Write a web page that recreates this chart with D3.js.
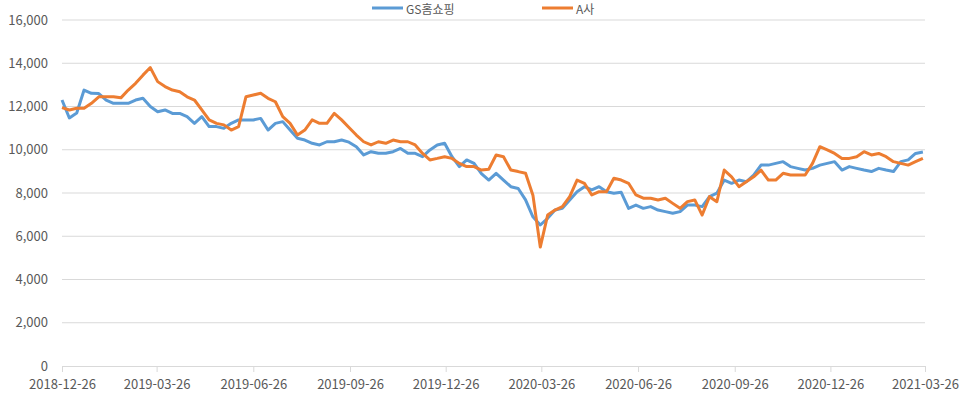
<!DOCTYPE html>
<html lang="ko">
<head>
<meta charset="UTF-8">
<title>GS홈쇼핑 vs A사</title>
<script src="https://d3js.org/d3.v7.min.js"></script>
<style>
    body { margin: 0; background: #fff; }
    svg { display: block; }
    text { font-family: "Noto Sans CJK KR", "Noto Sans", sans-serif; font-size: 13px; fill: #595959; }
</style>
</head>
<body>
<svg id="chart" width="966" height="398"></svg>
<script>
// weekly closes, starting 2018-12-26
const startDate = "2018-12-26";
const endDate = "2021-03-26";
const gsValues = [
    12300, 11470, 11700, 12760, 12610, 12600, 12300, 12150, 12150, 12150,
    12300, 12380, 12000, 11760, 11840, 11680, 11680, 11530, 11220, 11530,
    11070, 11070, 10990, 11220, 11380, 11380, 11380, 11450, 10910, 11220,
    11300, 10910, 10530, 10450, 10300, 10220, 10370, 10370, 10450, 10350,
    10140, 9760, 9910, 9835, 9835, 9910, 10060, 9835, 9835, 9680,
    9990, 10220, 10300, 9680, 9220, 9530, 9370, 8900, 8600, 8910,
    8600, 8290, 8210, 7680, 6900, 6520, 6830, 7210, 7290, 7680,
    8060, 8290, 8140, 8290, 8060, 7990, 8030, 7290, 7440, 7290,
    7370, 7210, 7140, 7060, 7140, 7440, 7440, 7370, 7830, 7990,
    8600, 8450, 8600, 8520, 8830, 9290, 9290, 9370, 9450, 9220,
    9140, 9060, 9140, 9290, 9370, 9450, 9060, 9220, 9140, 9060,
    8990, 9140, 9060, 8990, 9450, 9530, 9830, 9900
];
const aValues = [
    11950, 11840, 11920, 11920, 12150, 12450, 12450, 12450, 12400, 12760,
    13070, 13450, 13800, 13150, 12920, 12760, 12680, 12450, 12300, 11840,
    11380, 11220, 11150, 10910, 11070, 12450, 12530, 12610, 12380, 12220,
    11530, 11220, 10680, 10910, 11380, 11220, 11220, 11680, 11380, 11030,
    10680, 10370, 10220, 10370, 10300, 10450, 10370, 10370, 10220, 9830,
    9530, 9600, 9680, 9600, 9370, 9220, 9220, 9060, 9100, 9760,
    9680, 9060, 8990, 8910, 7900, 5500, 6980, 7210, 7370, 7830,
    8600, 8450, 7910, 8060, 8060, 8680, 8600, 8450, 7910, 7760,
    7760, 7680, 7760, 7520, 7290, 7600, 7680, 6980, 7830, 7600,
    9060, 8750, 8290, 8520, 8750, 9060, 8600, 8600, 8910, 8830,
    8830, 8830, 9370, 10140, 9990, 9830, 9600, 9600, 9680, 9910,
    9760, 9830, 9680, 9450, 9370, 9290, 9450, 9600
];
const seriesNames = ["GS홈쇼핑", "A사"];
const seriesColors = ["#5B9BD5", "#ED7D31"];
const xTickLabels = ["2018-12-26", "2019-03-26", "2019-06-26", "2019-09-26", "2019-12-26",
    "2020-03-26", "2020-06-26", "2020-09-26", "2020-12-26", "2021-03-26"];
const yTicks = [0, 2000, 4000, 6000, 8000, 10000, 12000, 14000, 16000];

const parse = d3.timeParse("%Y-%m-%d");
const dates = gsValues.map((v, i) => d3.timeDay.offset(parse(startDate), 7 * i));

const margin = { top: 20, right: 41, bottom: 32, left: 62 };
const width = 966 - margin.left - margin.right;
const height = 398 - margin.top - margin.bottom;

const svg = d3.select("#chart");
const g = svg.append("g").attr("transform", `translate(${margin.left},${margin.top})`);

const x = d3.scaleTime()
    .domain([parse(startDate), parse(endDate)])
    .range([0, width]);
const y = d3.scaleLinear()
    .domain([0, 16000])
    .range([height, 0]);

// gridlines
g.selectAll("line.grid")
    .data(yTicks.slice(1))
    .enter().append("line")
    .attr("class", "grid")
    .attr("x1", 0).attr("x2", width)
    .attr("y1", d => y(d)).attr("y2", d => y(d))
    .attr("stroke", "#d9d9d9").attr("stroke-width", 1);

// y axis labels
const yAxis = g.append("g")
    .call(d3.axisLeft(y).tickValues(yTicks).tickFormat(d3.format(",")).tickSize(0).tickPadding(14));
yAxis.select(".domain").remove();
yAxis.selectAll("text").style("font-size", "13px").attr("fill", "#595959");

// x axis
const xAxis = g.append("g")
    .attr("transform", `translate(0,${height})`)
    .call(d3.axisBottom(x).tickValues(xTickLabels.map(parse)).tickFormat(d3.timeFormat("%Y-%m-%d")).tickSize(6).tickPadding(8));
xAxis.select(".domain").attr("stroke", "#d9d9d9");
xAxis.selectAll(".tick line").attr("stroke", "#d9d9d9");
xAxis.selectAll("text").style("font-size", "13px").attr("fill", "#595959");

// lines
const line = d3.line()
    .x((d, i) => x(dates[i]))
    .y(d => y(d));

[gsValues, aValues].forEach((vals, k) => {
    g.append("path")
        .datum(vals)
        .attr("fill", "none")
        .attr("stroke", seriesColors[k])
        .attr("stroke-width", 3)
        .attr("stroke-linejoin", "round")
        .attr("d", line);
});

// legend
const legendX = [372, 542];
const legend = svg.append("g");
seriesNames.forEach((name, k) => {
    legend.append("line")
        .attr("x1", legendX[k]).attr("x2", legendX[k] + 31)
        .attr("y1", 8).attr("y2", 8)
        .attr("stroke", seriesColors[k]).attr("stroke-width", 3);
    legend.append("text")
        .attr("x", legendX[k] + 34).attr("y", 14)
        .style("font-size", "12px")
        .text(name);
});
</script>
</body>
</html>
